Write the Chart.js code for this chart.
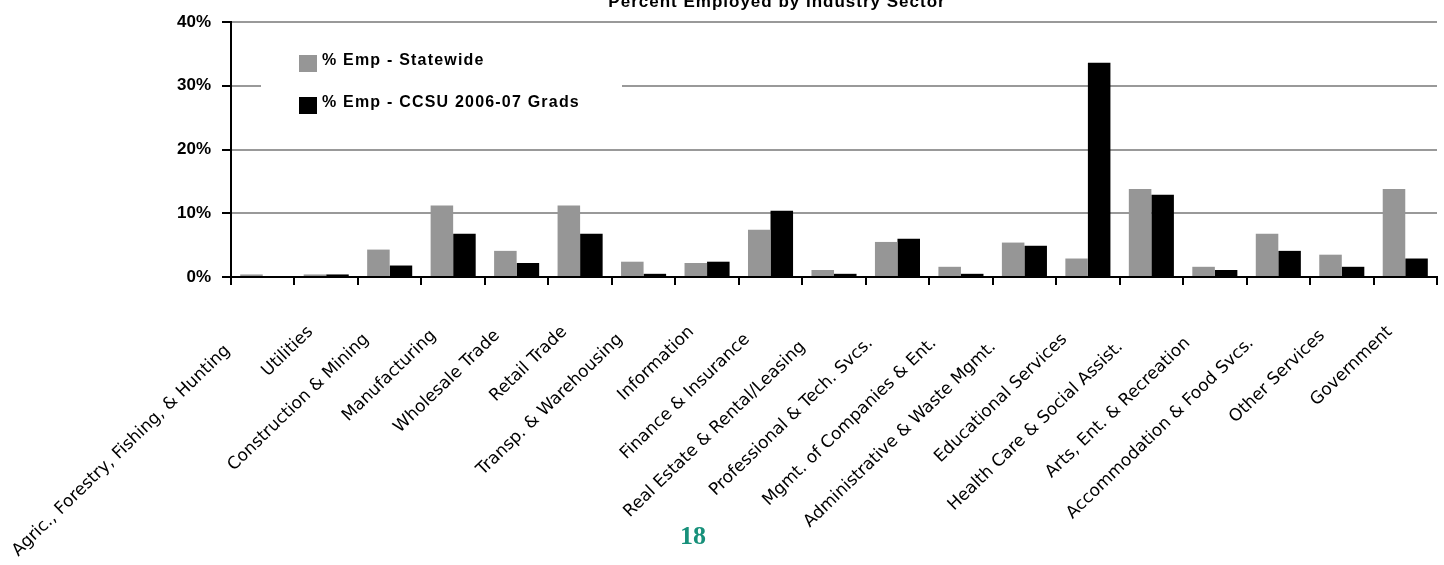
<!DOCTYPE html>
<html>
<head>
<meta charset="utf-8">
<script src="https://cdn.jsdelivr.net/npm/chart.js@4/dist/chart.umd.min.js"></script>
<style>
  html, body { margin: 0; padding: 0; background: #fff; }
  #wrap { position: relative; width: 1444px; height: 565px; }
  #pageNo { position: absolute; left: 0; width: 1386px; top: 521px; text-align: center;
    font: bold 26px "Liberation Serif", serif; color: #17907a; }
</style>
</head>
<body>
<div id="wrap">
  <canvas id="chart" width="1444" height="565"></canvas>
  <div id="pageNo">18</div>
</div>
<script>
const categories = [
  'Agric., Forestry, Fishing, & Hunting', 'Utilities', 'Construction & Mining', 'Manufacturing',
  'Wholesale Trade', 'Retail Trade', 'Transp. & Warehousing', 'Information', 'Finance & Insurance',
  'Real Estate & Rental/Leasing', 'Professional & Tech. Svcs.', 'Mgmt. of Companies & Ent.',
  'Administrative & Waste Mgmt.', 'Educational Services', 'Health Care & Social Assist.',
  'Arts, Ent. & Recreation', 'Accommodation & Food Svcs.', 'Other Services', 'Government'
];
const statewide = [0.4, 0.4, 4.3, 11.2, 4.1, 11.2, 2.4, 2.2, 7.4, 1.1, 5.5, 1.6, 5.4, 2.9, 13.8, 1.6, 6.8, 3.5, 13.8];
const ccsuGrads = [0, 0.4, 1.8, 6.8, 2.2, 6.8, 0.5, 2.4, 10.4, 0.5, 6.0, 0.5, 4.9, 33.6, 12.9, 1.1, 4.1, 1.6, 2.9];
const yTicks = [0, 10, 20, 30, 40];
const chartTitle = 'Percent Employed by Industry Sector';

// legend sits inside the plot on a white box
const insideLegend = {
  id: 'insideLegend',
  afterDraw(chart) {
    const ctx = chart.ctx;
    const area = chart.chartArea;
    ctx.save();
    ctx.fillStyle = '#fff';
    ctx.fillRect(area.left + 30, area.top + 20, 361, 80);
    chart.data.datasets.forEach((ds, i) => {
      const y = area.top + 33 + i * 42;
      ctx.fillStyle = ds.backgroundColor;
      ctx.fillRect(area.left + 68, y, 18, 17);
      ctx.fillStyle = '#000';
      ctx.font = 'bold 16px "Liberation Sans", Arial, sans-serif';
      ctx.letterSpacing = '1.2px';
      ctx.textBaseline = 'middle';
      ctx.fillText(ds.label, area.left + 91, y + 6);
    });
    // title, cut off by the top of the picture
    ctx.font = 'bold 17px "Liberation Sans", Arial, sans-serif';
    ctx.letterSpacing = '1px';
    ctx.textAlign = 'center';
    ctx.textBaseline = 'alphabetic';
    ctx.fillText(chartTitle, 777, 7);
    ctx.restore();
  }
};

new Chart(document.getElementById('chart'), {
  type: 'bar',
  data: {
    labels: categories,
    datasets: [
      { label: '% Emp - Statewide', data: statewide, backgroundColor: '#969696' },
      { label: '% Emp - CCSU 2006-07 Grads', data: ccsuGrads, backgroundColor: '#000000' }
    ]
  },
  options: {
    responsive: false,
    animation: false,
    layout: { padding: { top: 22, right: 7, left: 0, bottom: 0 } },
    datasets: { bar: { categoryPercentage: 0.71, barPercentage: 1.0 } },
    plugins: { legend: { display: false }, tooltip: { enabled: false } },
    scales: {
      x: {
        afterFit(scale) { scale.height = 288; scale.paddingLeft = 0; scale.paddingRight = 0; },
        grid: { drawOnChartArea: false, color: '#000', tickColor: '#000', tickLength: 8, lineWidth: 2, offset: true },
        border: { color: '#000', width: 2 },
        ticks: {
          autoSkip: false, minRotation: 44, maxRotation: 44, padding: 22, color: '#000',
          font: { family: '"DejaVu Sans", Verdana, sans-serif', size: 17 },
          // longer labels sit a little lower, as in the original
          callback(v) {
            const s = this.getLabelForValue(v);
            return s + ' '.repeat(Math.round(s.length * 0.2) + 2);
          }
        }
      },
      y: {
        min: 0, max: 40,
        afterFit(scale) { scale.width = 231; },
        afterBuildTicks(scale) { scale.ticks = yTicks.map(v => ({ value: v })); },
        grid: { color: '#999', tickColor: '#000', tickLength: 9, lineWidth: 2 },
        border: { color: '#000', width: 2 },
        ticks: {
          padding: 11, color: '#000',
          font: { family: '"Liberation Sans", Arial, sans-serif', size: 17, weight: 'bold' },
          callback: v => v + '%'
        }
      }
    }
  },
  plugins: [insideLegend]
});
</script>
</body>
</html>
